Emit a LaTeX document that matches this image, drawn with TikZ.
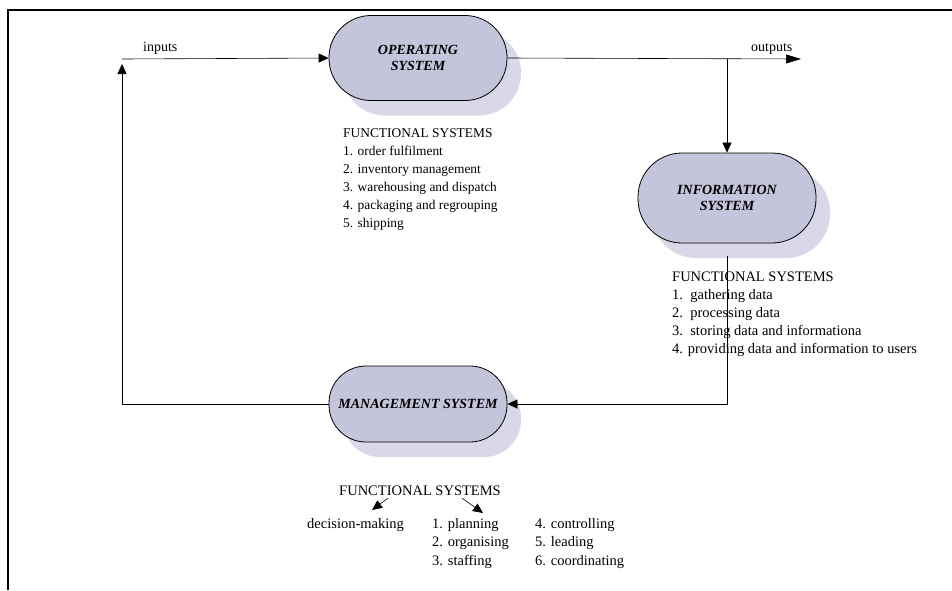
\documentclass[tikz,border=0pt]{standalone}
\usepackage{fontspec}
\setmainfont{Liberation Serif}
\usetikzlibrary{shadows, arrows.meta}
\usepackage{xcolor}
\definecolor{c1}{HTML}{C4C4DA}
\definecolor{c2}{HTML}{D8D8E8}

\tikzset{
	sys/.style={rectangle, draw, thick, fill=c1, minimum width=178pt, inner sep=1pt, align=center,
			font=\fontsize{14}{16}\selectfont\bfseries\itshape,
			general shadow={shadow xshift=14pt, shadow yshift=-15pt, fill=c2}},
	arr/.style={line width=0.6pt, -{Triangle[length=10pt, width=9pt]}},
	list/.style={anchor=north west, inner sep=0pt, align=left}
}

\begin{document}
\begin{tikzpicture}[x=1pt, y=-1pt]
	\useasboundingbox (0, 0) rectangle (952, 590);
	\draw[line width=1.3pt] (8, 590) -- (8, 10) -- (952, 10);

	\node[sys, minimum height=85pt, rounded corners=42pt] (os) at (418, 58) {OPERATING\\SYSTEM};
	\node[sys, minimum height=90pt, rounded corners=44pt] (info) at (727, 198) {INFORMATION\\SYSTEM};
	\node[sys, minimum height=76pt, rounded corners=37pt] (mgmt) at (418, 404) {MANAGEMENT SYSTEM};

	\coordinate (in) at (122, 59);
	\coordinate (up) at (122, 64);
	\coordinate (out) at (801, 59);
	\coordinate (split) at (727, 59);
	\coordinate (infobot) at (727, 256);

	\draw[arr] (in) -- (os.west);
	\draw[arr, -{Triangle[length=15pt, width=9pt]}] (os.east) -- (out);
	\draw[arr] (split) -- (info.north);
	\draw[arr] (infobot) |- (mgmt.east);
	\draw[arr] (mgmt.west) -| (up);

	\node[anchor=base west, inner sep=0pt, font=\fontsize{14}{16}\selectfont] (inlbl) at (143, 51) {inputs};
	\node[anchor=base west, inner sep=0pt, font=\fontsize{14}{16}\selectfont] (outlbl) at (751, 51) {outputs};

	\node[list, font=\fontsize{13.4}{18}\selectfont] (oslist) at (343, 128)
		{FUNCTIONAL SYSTEMS\\1. order fulfilment\\2. inventory management\\3. warehousing and dispatch\\4. packaging and regrouping\\5. shipping};
	\node[list, font=\fontsize{14.5}{18}\selectfont] (infolist) at (672, 272)
		{FUNCTIONAL SYSTEMS\\1.\ \ gathering data\\2.\ \ processing data\\3.\ \ storing data and informationa\\4. providing data and information to users};

	\node[anchor=north, inner sep=0pt, font=\fontsize{14.5}{18}\selectfont] (mfs) at (420, 486) {FUNCTIONAL SYSTEMS};
	\node[list, font=\fontsize{14.5}{18.5}\selectfont] (dm) at (307, 518) {decision-making};
	\node[list, font=\fontsize{14.5}{18.5}\selectfont] (pl) at (432, 518) {1. planning\\2. organising\\3. staffing};
	\node[list, font=\fontsize{14.5}{18.5}\selectfont] (ct) at (535, 518) {4. controlling\\5. leading\\6. coordinating};

	\draw[arr] ([xshift=-32pt, yshift=-2pt]mfs.south) -- ([xshift=-32pt, yshift=8pt]dm.north east);
	\draw[arr] ([xshift=42pt, yshift=-2pt]mfs.south) -- ([xshift=51pt, yshift=5pt]pl.north west);
\end{tikzpicture}
\end{document}
